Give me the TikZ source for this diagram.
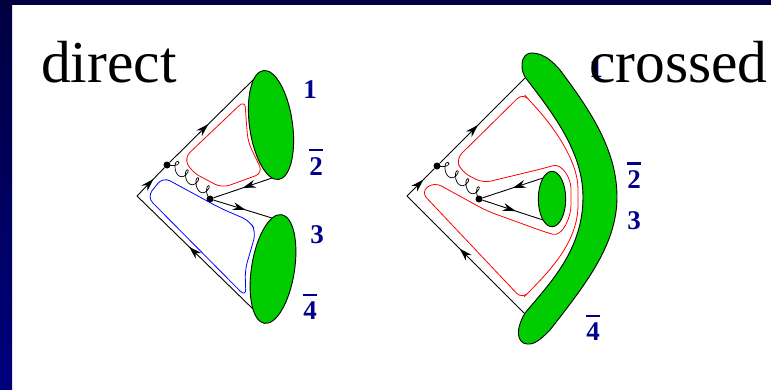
\documentclass[tikz,border=0pt]{standalone}
\usepackage{fontspec}
\setmainfont{Liberation Serif}
\usetikzlibrary{decorations.markings,arrows.meta}
\definecolor{framedark}{RGB}{0,0,64}
\definecolor{frameblue}{RGB}{0,0,125}
\definecolor{labelblue}{RGB}{0,0,139}
\definecolor{blobgreen}{RGB}{0,204,0}
\newcommand{\barred}[1]{\vbox{\hrule height 2.2pt \vskip 6pt \hbox{#1}}}
\tikzset{
    title/.style={font=\fontsize{59.5}{60}\selectfont, inner sep=0pt},
    leg/.style={font=\fontsize{27}{27}\selectfont\bfseries, text=labelblue, inner sep=0pt},
    blob/.style={draw=black, fill=blobgreen, line width=0.9pt},
    quark/.style={line width=0.9pt, postaction={decorate},
        decoration={markings, mark=at position #1 with {\arrow{Stealth[length=13pt,width=8pt]}}}},
    quark/.default=0.5,
    vertex/.style={circle, fill=black, inner sep=0pt, minimum size=7pt},
    loop/.style={line width=0.8pt, rounded corners=8pt},
    gluon/.pic={
        \draw[line width=0.7pt] (0,0) .. controls (4,1) and (11,1) .. (12,-2)
            .. controls (12,-5) and (7,-4) .. (8,2)
            .. controls (8,11) and (16,16) .. (21,7)
            .. controls (22.5,4) and (18,3) .. (18.5,10)
            .. controls (18.5,19) and (26.5,24) .. (31.5,15)
            .. controls (33,12) and (28.5,11) .. (29,17.6)
            .. controls (29,27) and (37,32) .. (42,23)
            .. controls (43.5,20) and (39.5,19) .. (39.5,25.4)
            .. controls (39.5,29) and (41,32) .. (43,34);
    },
}
\begin{document}
\begin{tikzpicture}[x=1pt, y=-1pt]
    \useasboundingbox (0,0) rectangle (771,389);
    % frame
    \fill[white] (0,0) rectangle (771,389);
    \fill[framedark] (0,0) rectangle (771,5);
    \shade[top color=framedark, bottom color=frameblue] (0,0) rectangle (12,389);

    % direct
    \begin{scope}
        \node[title, anchor=base west] (direct) at (41,82) {direct};
        \coordinate (apexD) at (137,196);
        \node[vertex] (gluD) at (167,165) {};
        \node[vertex] (splitD) at (210,199) {};
        \coordinate (endA) at (256,77);
        \coordinate (endB) at (253,309);
        \coordinate (endC) at (272,178);
        \coordinate (endE) at (272,218);
        \draw[quark=0.45] (gluD) -- (endA);
        \draw[quark=0.6] (apexD) -- (gluD);
        \draw[quark=0.55] (endB) -- (apexD);
        \draw[quark=0.5] (endC) -- (splitD);
        \draw[quark=0.55] (splitD) -- (endE);
        \pic at (gluD) {gluon};
        \draw[red, loop] (245,100) -- (184,158) -- (192,172) -- (222,188) -- (263,173) -- (248,142) -- (246,118) -- cycle;
        \draw[blue, loop] (163,177) -- (147,197) -- (246,297) -- (245,270) -- (256,232) -- (250,221) -- (220,208) -- cycle;
        \draw[blob, rotate around={8:(271,125)}] (271,125) ellipse (21.5 and 55);
        \draw[blob, rotate around={-9:(273,269)}] (273,269) ellipse (21.5 and 55);
        \node[leg] (oneD) at (310,90) {1};
        \node[leg] (twoD) at (316,162) {\barred{2}};
        \node[leg] (threeD) at (317,235) {3};
        \node[leg] (fourD) at (310,307) {\barred{4}};
    \end{scope}

    % crossed
    \begin{scope}
        \node[leg] (oneC) at (596,69) {1};
        \node[title, anchor=base west] (crossed) at (589,82) {crossed};
        \coordinate (apexC) at (407,196);
        \node[vertex] (gluC) at (437,166) {};
        \node[vertex] (splitC) at (479,199) {};
        \coordinate (endF) at (525,78);
        \coordinate (endG) at (524,313);
        \coordinate (endH) at (543,178);
        \coordinate (endI) at (543,220);
        \draw[quark=0.45] (gluC) -- (endF);
        \draw[quark=0.6] (apexC) -- (gluC);
        \draw[quark=0.55] (endG) -- (apexC);
        \draw[quark=0.5] (endH) -- (splitC);
        \draw[quark=0.55] (splitC) -- (endI);
        \pic at (gluC) {gluon};
        \draw[red, loop] (578,197) .. controls (578,160) and (552,125) .. (530,101)
            -- (523,93) -- (456,159) -- (462,172) -- (483,183) -- (545,168)
            .. controls (562,163) and (571,178) .. (571,197)
            .. controls (571,218) and (562,237) .. (545,232)
            -- (487,211) -- (434,182) -- (421,192) -- (522,299) -- (530,291)
            .. controls (552,268) and (578,240) .. (578,197) -- cycle;
        \draw[blob] (522,65) .. controls (522,57) and (527,52) .. (533,53)
            .. controls (545,54) and (553,62) .. (560,70)
            .. controls (590,110) and (617,150) .. (617,197)
            .. controls (617,245) and (585,285) .. (550,330)
            .. controls (542,338) and (535,345) .. (527,344)
            .. controls (517,343) and (515,330) .. (525,313)
            .. controls (550,283) and (583,250) .. (583,197)
            .. controls (583,150) and (550,110) .. (525,77)
            .. controls (523,73) and (522,70) .. (522,65) -- cycle;
        \draw[blob] (552,199) ellipse (13.7 and 27.7);
        \node[leg] (twoC) at (634,175.5) {\barred{2}};
        \node[leg] (threeC) at (634,221) {3};
        \node[leg] (fourC) at (593,328) {\barred{4}};
    \end{scope}
\end{tikzpicture}
\end{document}
